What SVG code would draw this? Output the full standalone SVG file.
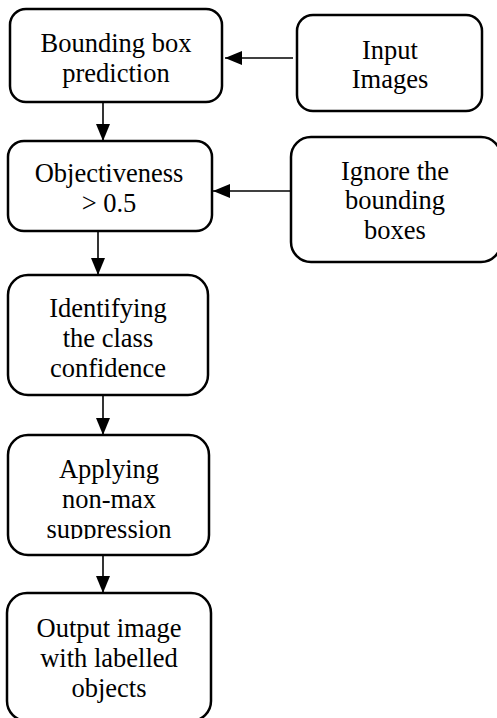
<svg xmlns="http://www.w3.org/2000/svg" width="497" height="718" viewBox="0 0 497 718">
<style>
.box{fill:#fff;stroke:#000;stroke-width:2.5}
.t{font-family:"Liberation Serif","Times New Roman",serif;font-size:26.5px;fill:#000;text-anchor:middle}
.c{stroke:#000;stroke-width:1.6;fill:none}
</style>
<defs>
<marker id="ah" markerUnits="userSpaceOnUse" markerWidth="18" markerHeight="14" refX="17" refY="7" orient="auto">
<path d="M0,0 L17,7 L0,14 Z" fill="#000"/>
</marker>
<clipPath id="clip4"><rect x="0" y="430" width="240" height="109"/></clipPath>
</defs>
<rect width="497" height="718" fill="#fff"/>
<g id="connectors">
<line class="c" x1="293" y1="58" x2="225" y2="58" marker-end="url(#ah)"/>
<line class="c" x1="291" y1="191" x2="213" y2="191" marker-end="url(#ah)"/>
<line class="c" x1="103" y1="102" x2="103" y2="141" marker-end="url(#ah)"/>
<line class="c" x1="98" y1="231" x2="98" y2="275" marker-end="url(#ah)"/>
<line class="c" x1="103" y1="395" x2="103" y2="435" marker-end="url(#ah)"/>
<line class="c" x1="103" y1="555" x2="103" y2="593" marker-end="url(#ah)"/>
</g>
<g id="bbox">
<rect class="box" x="10" y="9" width="212" height="93" rx="16"/>
<text class="t" x="116" y="52">Bounding box</text>
<text class="t" x="116" y="82">prediction</text>
</g>
<g id="input">
<rect class="box" x="297" y="15" width="185" height="96" rx="16"/>
<text class="t" x="390" y="59">Input</text>
<text class="t" x="390" y="88">Images</text>
</g>
<g id="objectiveness">
<rect class="box" x="8" y="141" width="204" height="90" rx="16"/>
<text class="t" x="109" y="182">Objectiveness</text>
<text class="t" x="109" y="212">&gt; 0.5</text>
</g>
<g id="ignore">
<rect class="box" x="291" y="137" width="210" height="125" rx="20"/>
<text class="t" x="395" y="180">Ignore the</text>
<text class="t" x="395" y="209">bounding</text>
<text class="t" x="395" y="239">boxes</text>
</g>
<g id="identify">
<rect class="box" x="8" y="275" width="200" height="120" rx="20"/>
<text class="t" x="108" y="317">Identifying</text>
<text class="t" x="108" y="347">the class</text>
<text class="t" x="108" y="377">confidence</text>
</g>
<g id="nms">
<rect class="box" x="8" y="435" width="201" height="120" rx="20"/>
<g clip-path="url(#clip4)">
<text class="t" x="109" y="478">Applying</text>
<text class="t" x="109" y="508">non-max</text>
<text class="t" x="109" y="538">suppression</text>
</g>
</g>
<g id="output">
<rect class="box" x="7" y="593" width="204" height="128" rx="20"/>
<text class="t" x="109" y="637">Output image</text>
<text class="t" x="109" y="667">with labelled</text>
<text class="t" x="109" y="697">objects</text>
</g>
</svg>
